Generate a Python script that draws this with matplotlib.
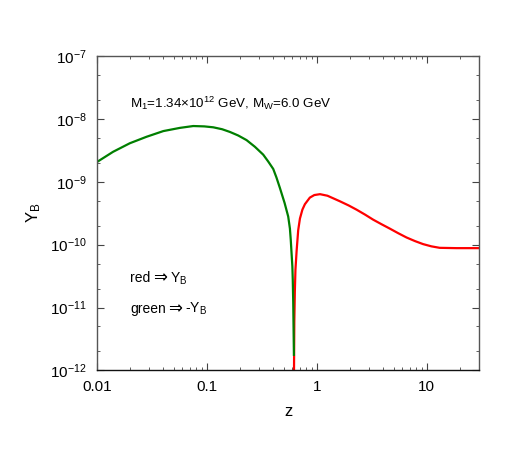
import matplotlib
matplotlib.use("Agg")
import matplotlib.pyplot as plt
import matplotlib.ticker as ticker
from matplotlib.offsetbox import TextArea, HPacker, AnnotationBbox
import numpy as np

plt.rcParams["font.family"] = ["Liberation Sans", "DejaVu Sans"]
plt.rcParams["mathtext.fontset"] = "custom"
plt.rcParams["mathtext.rm"] = "Liberation Sans"
plt.rcParams["mathtext.it"] = "Liberation Sans:italic"

# --- values ---
# green: -Y_B (negative part, before the sign change)
z_green = [0.01, 0.0141, 0.02, 0.0284, 0.0403, 0.0571, 0.0754, 0.095, 0.1146, 0.138,
           0.1625, 0.193, 0.23, 0.274, 0.326, 0.362, 0.402, 0.43, 0.462, 0.51,
           0.55, 0.57, 0.58, 0.59, 0.6, 0.605, 0.611, 0.616, 0.62]
yb_green = [2.05e-9, 3.0e-9, 4.1e-9, 5.2e-9, 6.4e-9, 7.2e-9, 7.7e-9, 7.6e-9, 7.35e-9, 6.85e-9,
            6.2e-9, 5.45e-9, 4.6e-9, 3.6e-9, 2.7e-9, 2.1e-9, 1.6e-9, 1.17e-9, 8.0e-10, 4.6e-10,
            2.8e-10, 1.8e-10, 1.2e-10, 7.3e-11, 4.5e-11, 2.8e-11, 1.2e-11, 4e-12, 1.7e-12]

# red: Y_B (positive part)
z_red = [0.621, 0.625, 0.632, 0.64, 0.656, 0.678, 0.703, 0.74, 0.78, 0.865,
         0.95, 1.07, 1.25, 1.62, 1.95, 2.3, 2.75, 3.25, 3.9, 4.61,
         5.5, 6.54, 7.8, 9.25, 11, 13.1, 18.6, 30]
yb_red = [1e-12, 6e-12, 1.8e-11, 4e-11, 8e-11, 1.7e-10, 2.6e-10, 3.6e-10, 4.4e-10, 5.6e-10,
          6.15e-10, 6.35e-10, 6.0e-10, 4.9e-10, 4.2e-10, 3.6e-10, 3.0e-10, 2.5e-10, 2.1e-10, 1.8e-10,
          1.52e-10, 1.3e-10, 1.14e-10, 1.02e-10, 9.4e-11, 8.9e-11, 8.8e-11, 8.8e-11]

x_ticks = [0.01, 0.1, 1, 10]
x_ticklabels = ["0.01", "0.1", "1", "10"]
y_ticks = [1e-12, 1e-11, 1e-10, 1e-9, 1e-8, 1e-7]
y_ticklabels = [r"$\mathregular{10^{%d}}$" % p for p in range(-12, -6)]

fig = plt.figure(figsize=(5.18, 4.63), dpi=100)
ax = fig.add_axes([0.1867, 0.200, 0.7386, 0.679])

ax.plot(z_red, yb_red, color="#ff0000", lw=1.6, solid_capstyle="butt")
ax.plot(z_green, yb_green, color="#007f00", lw=1.6, solid_capstyle="butt")

ax.set_xscale("log")
ax.set_yscale("log")
ax.set_xlim(0.01, 30)
ax.set_ylim(1e-12, 1e-7)

ax.set_xticks(x_ticks)
ax.set_xticklabels(x_ticklabels)
ax.set_yticks(y_ticks)
ax.set_yticklabels(y_ticklabels)
ax.xaxis.set_minor_locator(ticker.LogLocator(base=10, subs=np.arange(2, 10)))
ax.yaxis.set_minor_locator(ticker.LogLocator(base=10, subs=[2, 5]))
ax.xaxis.set_minor_formatter(ticker.NullFormatter())
ax.yaxis.set_minor_formatter(ticker.NullFormatter())

ax.tick_params(which="both", direction="in", top=True, right=True,
               labelsize=11, color="#444444")
ax.tick_params(which="major", length=5, width=0.8, pad=7)
ax.tick_params(which="minor", length=2.5, width=0.6)
for side in ["top", "right", "left"]:
    ax.spines[side].set_color("#555555")
ax.spines["bottom"].set_color("#111111")
for s in ax.spines.values():
    s.set_linewidth(1.0)

ax.set_xlabel("z", fontsize=12, labelpad=7)
ax.set_ylabel(r"Y$_\mathregular{B}$", fontsize=12, labelpad=5)

ax.text(0.087, 0.85, r"M$_\mathregular{1}$=1.34$\times$10$^\mathregular{12}$ GeV, M$_\mathregular{W}$=6.0 GeV",
        transform=ax.transAxes, fontsize=9.6, va="center")


def arrow_label(left, right, y):
    # word, a big double arrow (DejaVu), then the quantity
    parts = [
        TextArea(left, textprops=dict(fontsize=10)),
        TextArea("⇒", textprops=dict(fontsize=12, family="DejaVu Sans")),
        TextArea(right, textprops=dict(fontsize=10)),
    ]
    box = HPacker(children=parts, align="baseline", pad=0, sep=2)
    ab = AnnotationBbox(box, (0.087, y), xycoords="axes fraction",
                        box_alignment=(0, 0.5), frameon=False, pad=0)
    ax.add_artist(ab)


arrow_label("red", r"Y$_\mathregular{B}$", 0.295)
arrow_label("green", r"-Y$_\mathregular{B}$", 0.198)

fig.savefig("out.png", dpi=100)
